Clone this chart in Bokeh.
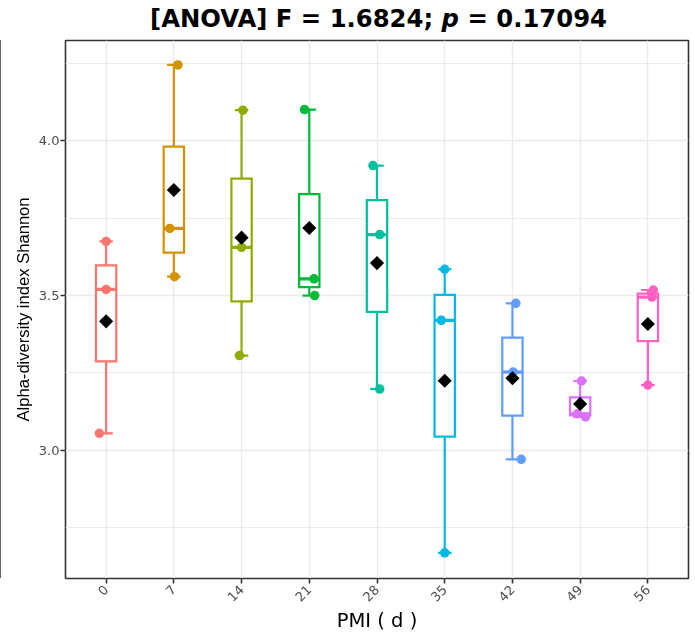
import math
import numpy as np
from bokeh.plotting import figure
from bokeh.models import Range1d, FixedTicker, Div
from bokeh.layouts import column
from bokeh.embed import file_html
from bokeh.resources import INLINE

# ---------------- data ----------------
categories = ["0", "7", "14", "21", "28", "35", "42", "49", "56"]
colors = ["#F8766D", "#D39200", "#93AA00", "#00BA38", "#00C19F",
          "#00B9E3", "#619CFF", "#DB72FB", "#FF61C3"]

shannon_d0 = [3.675, 3.520, 3.055]
shannon_d7 = [4.245, 3.717, 3.561]
shannon_d14 = [4.099, 3.656, 3.306]
shannon_d21 = [4.101, 3.554, 3.500]
shannon_d28 = [3.920, 3.697, 3.198]
shannon_d35 = [3.585, 3.420, 2.669]
shannon_d42 = [3.475, 3.253, 2.971]
shannon_d49 = [3.224, 3.118, 3.108]
shannon_d56 = [3.518, 3.495, 3.211]

# horizontal jitter of the individual points (in category units)
jitter_d0 = [0.00, 0.00, -0.10]
jitter_d7 = [0.06, -0.06, 0.01]
jitter_d14 = [0.02, 0.00, -0.03]
jitter_d21 = [-0.07, 0.07, 0.08]
jitter_d28 = [-0.06, 0.04, 0.04]
jitter_d35 = [0.00, -0.05, 0.00]
jitter_d42 = [0.05, 0.01, 0.13]
jitter_d49 = [0.02, -0.04, 0.08]
jitter_d56 = [0.08, 0.06, 0.00]

anova_F = "1.6824"
anova_p = "0.17094"
y_ticks = [3.0, 3.5, 4.0]
y_minor = [2.75, 3.25, 3.75, 4.25]

groups = [shannon_d0, shannon_d7, shannon_d14, shannon_d21, shannon_d28,
          shannon_d35, shannon_d42, shannon_d49, shannon_d56]
jitters = [jitter_d0, jitter_d7, jitter_d14, jitter_d21, jitter_d28,
           jitter_d35, jitter_d42, jitter_d49, jitter_d56]

# ---------------- statistics ----------------
xpos = np.arange(1, len(categories) + 1, dtype=float)
q1 = np.array([np.percentile(g, 25) for g in groups])
med = np.array([np.percentile(g, 50) for g in groups])
q3 = np.array([np.percentile(g, 75) for g in groups])
lo = np.array([min(g) for g in groups])
hi = np.array([max(g) for g in groups])
mean = np.array([np.mean(g) for g in groups])

box_half = 0.15
cap_half = 0.10

p = figure(width=693, height=598,
           x_range=Range1d(0.4, 9.6), y_range=Range1d(2.586, 4.324),
           output_backend="svg", toolbar_location=None,
           min_border_left=65, min_border_right=5,
           min_border_top=2, min_border_bottom=58)

p.background_fill_color = "white"
p.border_fill_color = "white"
p.outline_line_color = "#333333"
p.outline_line_width = 1.6

# grid
p.xgrid.grid_line_color = "#EBEBEB"
p.xgrid.grid_line_width = 1.4
p.ygrid.grid_line_color = "#EBEBEB"
p.ygrid.grid_line_width = 1.4
p.ygrid.minor_grid_line_color = "#EBEBEB"
p.ygrid.minor_grid_line_width = 1.0

# axes
p.xaxis.ticker = FixedTicker(ticks=list(xpos))
p.xaxis.major_label_overrides = {int(x): c for x, c in zip(xpos, categories)}
p.yaxis.ticker = FixedTicker(ticks=y_ticks, minor_ticks=y_minor)
p.yaxis.major_label_overrides = {t: f"{t:.1f}" for t in y_ticks}

for ax in (p.xaxis, p.yaxis):
    ax.axis_line_color = None
    ax.major_tick_line_color = "#333333"
    ax.major_tick_line_width = 1.6
    ax.major_tick_out = 5
    ax.major_tick_in = 0
    ax.minor_tick_line_color = None
    ax.major_label_text_font = "DejaVu Sans"
    ax.major_label_text_font_size = "13px"
    ax.major_label_text_color = "#4D4D4D"
    ax.axis_label_text_color = "#000000"
    ax.axis_label_text_font_style = "normal"

p.xaxis.major_label_orientation = math.pi / 4
p.xaxis.major_label_standoff = 4
p.xaxis.axis_label = "PMI ( d )"
p.xaxis.axis_label_text_font = "DejaVu Sans"
p.xaxis.axis_label_text_font_size = "19.5px"
p.xaxis.axis_label_standoff = 0

p.yaxis.major_label_standoff = 1
p.yaxis.axis_label = "Alpha-diversity index Shannon"
p.yaxis.axis_label_text_font = "Liberation Sans"
p.yaxis.axis_label_text_font_size = "16.6px"
p.yaxis.axis_label_standoff = 3

# whiskers and caps
p.segment(x0=xpos, y0=q3, x1=xpos, y1=hi, line_color=colors, line_width=2.2)
p.segment(x0=xpos, y0=q1, x1=xpos, y1=lo, line_color=colors, line_width=2.2)
p.segment(x0=xpos - cap_half, y0=hi, x1=xpos + cap_half, y1=hi, line_color=colors, line_width=2.2)
p.segment(x0=xpos - cap_half, y0=lo, x1=xpos + cap_half, y1=lo, line_color=colors, line_width=2.2)

# boxes
p.quad(left=xpos - box_half, right=xpos + box_half, top=q3, bottom=q1,
       fill_color="white", line_color=colors, line_width=2.2, line_join="miter")
p.segment(x0=xpos - box_half, y0=med, x1=xpos + box_half, y1=med,
          line_color=colors, line_width=3.2)

# jittered points
px, py, pc = [], [], []
for i, (g, j) in enumerate(zip(groups, jitters)):
    for v, o in zip(g, j):
        px.append(xpos[i] + o)
        py.append(v)
        pc.append(colors[i])
p.scatter(x=px, y=py, size=9.5, color=pc, line_width=0)

# means
p.scatter(x=xpos, y=mean, marker="square", size=10, angle=math.pi / 4,
          color="black", line_width=0)

title_html = (
    '<div style="position:fixed;left:0px;top:40px;width:2px;height:538px;'
    'background:#333333;"></div>'
    '<div style="width:693px;box-sizing:border-box;padding-left:64px;padding-top:8px;'
    'text-align:center;font-family:\'DejaVu Sans\';font-weight:bold;'
    'font-size:24.3px;line-height:22px;color:#000000;white-space:nowrap;">'
    f'[ANOVA] F = {anova_F}; <i>p</i> = {anova_p}</div>'
)
title = Div(text=title_html, width=693, height=38, margin=(0, 0, 0, 0))

layout = column(title, p)
open("out.html", "w").write(file_html(layout, INLINE))
